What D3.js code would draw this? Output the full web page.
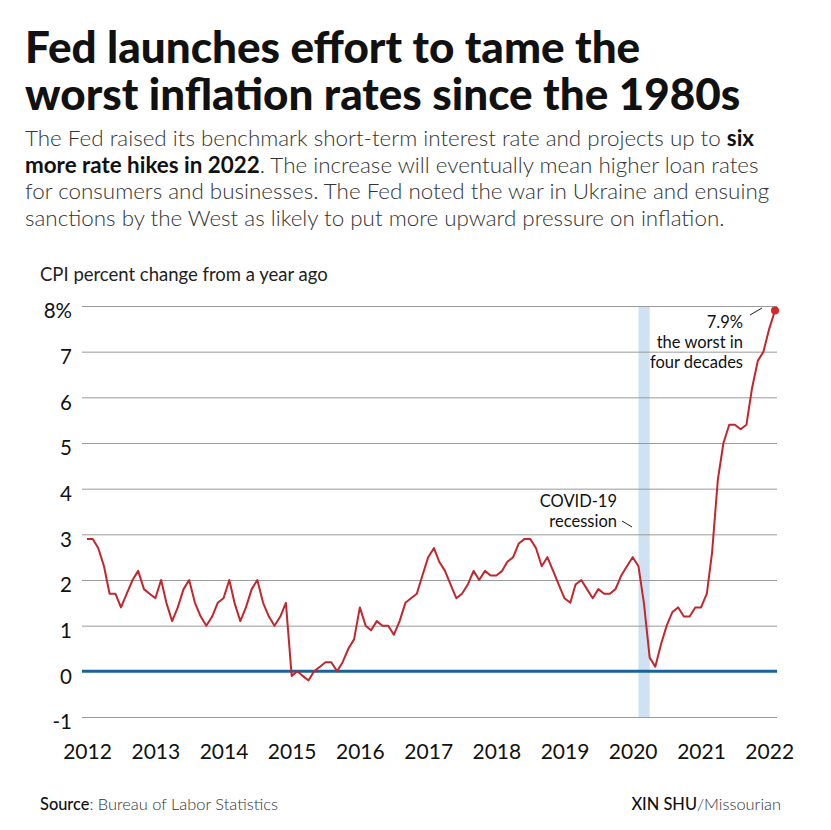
<!DOCTYPE html>
<html><head><meta charset="utf-8">
<script src="https://cdn.jsdelivr.net/npm/d3@7/dist/d3.min.js"></script>
<style>
html,body{margin:0;padding:0;background:#fff;}
svg{display:block;font-family:Lato,"Noto Sans",sans-serif;}
</style></head>
<body>
<svg id="chart" width="831" height="830"></svg>
<script>
// ---- data ----
const startYear = 2012;
const cpi2012 = [2.9,2.9,2.7,2.3,1.7,1.7,1.4,1.7,2.0,2.2,1.8,1.7];
const cpi2013 = [1.6,2.0,1.5,1.1,1.4,1.8,2.0,1.5,1.2,1.0,1.2,1.5];
const cpi2014 = [1.6,2.0,1.5,1.1,1.4,1.8,2.0,1.5,1.2,1.0,1.2,1.5];
const cpi2015 = [-0.1,0.0,-0.1,-0.2,0.0,0.1,0.2,0.2,0.0,0.2,0.5,0.7];
const cpi2016 = [1.4,1.0,0.9,1.1,1.0,1.0,0.8,1.1,1.5,1.6,1.7,2.1];
const cpi2017 = [2.5,2.7,2.4,2.2,1.9,1.6,1.7,1.9,2.2,2.0,2.2,2.1];
const cpi2018 = [2.1,2.2,2.4,2.5,2.8,2.9,2.9,2.7,2.3,2.5,2.2,1.9];
const cpi2019 = [1.6,1.5,1.9,2.0,1.8,1.6,1.8,1.7,1.7,1.8,2.1,2.3];
const cpi2020 = [2.5,2.3,1.5,0.3,0.1,0.6,1.0,1.3,1.4,1.2,1.2,1.4];
const cpi2021 = [1.4,1.7,2.6,4.2,5.0,5.4,5.4,5.3,5.4,6.2,6.8,7.0];
const cpi2022 = [7.5,7.9];
const yearTicks = [2012,2013,2014,2015,2016,2017,2018,2019,2020,2021,2022];
const yTicks = [-1,0,1,2,3,4,5,6,7,8];
const recession = [new Date(2020,1,1), new Date(2020,3,1)];

const series = [cpi2012,cpi2013,cpi2014,cpi2015,cpi2016,cpi2017,cpi2018,cpi2019,cpi2020,cpi2021,cpi2022];
const data = [];
series.forEach((arr,i)=>arr.forEach((v,m)=>data.push({date:new Date(startYear+i,m,1), value:v})));

const svg = d3.select("#chart");

// ---- header ----
const title = svg.append("text").attr("x",25).attr("fill","#111")
  .style("font-weight",900).style("font-size","44px");
title.append("tspan").attr("x",25).attr("y",63).text("Fed launches effort to tame the");
title.append("tspan").attr("x",25).attr("y",110).text("worst inflation rates since the 1980s");

const sub = svg.append("g").attr("fill","#333").style("font-weight",300).style("font-size","22.4px");
const l1 = sub.append("text").attr("x",25).attr("y",146);
l1.append("tspan").text("The Fed raised its benchmark short-term interest rate and projects up to ");
l1.append("tspan").style("font-weight",700).attr("fill","#111").text("six");
const l2 = sub.append("text").attr("x",25).attr("y",173);
l2.append("tspan").style("font-weight",700).attr("fill","#111").text("more rate hikes in 2022");
l2.append("tspan").text(". The increase will eventually mean higher loan rates");
sub.append("text").attr("x",25).attr("y",199).text("for consumers and businesses. The Fed noted the war in Ukraine and ensuing");
sub.append("text").attr("x",25).attr("y",226).text("sanctions by the West as likely to put more upward pressure on inflation.");

svg.append("text").attr("x",40).attr("y",281).attr("fill","#222")
  .style("font-size","18.5px").text("CPI percent change from a year ago");

// ---- scales ----
const x = d3.scaleTime().domain([new Date(2012,0,1), new Date(2022,1,1)]).range([87,775]);
const y = d3.scaleLinear().domain([-1,8]).range([717,306]);
const gridX0 = 82, gridX1 = 777;

// recession band
svg.append("rect").attr("x",x(recession[0])).attr("width",x(recession[1])-x(recession[0]))
  .attr("y",y(8)).attr("height",y(-1)-y(8)).attr("fill","#cfe2f3");

// y grid + labels
const yAxis = d3.axisLeft(y).tickValues(yTicks).tickSize(-(gridX1-gridX0))
  .tickFormat(d=>d===8?"8%":String(d)).tickPadding(10);
const gy = svg.append("g").attr("transform",`translate(${gridX0},0)`).call(yAxis);
gy.select(".domain").remove();
gy.selectAll(".tick line").attr("stroke",d=>d===0?"none":"#9a9a9a").attr("stroke-width",1);
gy.selectAll(".tick text").attr("fill","#111").style("font-size","20.5px").style("font-family","Lato")
  .attr("y",4.5).attr("dy","0.35em");

// x axis labels
const xAxis = d3.axisBottom(x).tickValues(yearTicks.map(yr=>new Date(yr,0,1)))
  .tickFormat(d3.timeFormat("%Y")).tickSize(0).tickPadding(0);
const gx = svg.append("g").attr("transform",`translate(0,759)`).call(xAxis);
gx.select(".domain").remove();
gx.selectAll(".tick text").attr("fill","#111").style("font-size","21px").style("font-family","Lato").attr("y",0).attr("dy","0");

// zero line
svg.append("line").attr("x1",gridX0).attr("x2",gridX1).attr("y1",y(0)).attr("y2",y(0))
  .attr("stroke","#1a6398").attr("stroke-width",3);

// data line
const line = d3.line().x(d=>x(d.date)).y(d=>y(d.value));
svg.append("path").datum(data).attr("d",line).attr("fill","none")
  .attr("stroke","#c1272d").attr("stroke-width",2).attr("stroke-linejoin","round");
const last = data[data.length-1];
svg.append("circle").attr("cx",x(last.date)).attr("cy",y(last.value)).attr("r",4).attr("fill","#d7262b");

// annotations
const ann = svg.append("g").attr("fill","#111").style("font-size","16.5px").attr("text-anchor","end");
ann.append("text").attr("x",743).attr("y",328).text("7.9%");
ann.append("text").attr("x",743).attr("y",348).text("the worst in");
ann.append("text").attr("x",743).attr("y",368).text("four decades");
svg.append("line").attr("x1",750).attr("y1",315).attr("x2",762).attr("y2",308).attr("stroke","#222").attr("stroke-width",1);

ann.append("text").attr("x",617).attr("y",507).text("COVID-19");
ann.append("text").attr("x",617).attr("y",527).text("recession");
svg.append("line").attr("x1",622).attr("y1",521).attr("x2",632).attr("y2",527).attr("stroke","#222").attr("stroke-width",1);

// footer
const src = svg.append("text").attr("x",40).attr("y",810).attr("fill","#333").style("font-size","16.4px");
src.append("tspan").style("font-weight",500).attr("fill","#111").text("Source");
src.append("tspan").style("font-weight",300).text(": Bureau of Labor Statistics");
const cr = svg.append("text").attr("x",781).attr("y",810).attr("text-anchor","end").attr("fill","#333").style("font-size","16.4px");
cr.append("tspan").style("font-weight",500).attr("fill","#111").text("XIN SHU");
cr.append("tspan").style("font-weight",300).text("/Missourian");
</script>
</body></html>
